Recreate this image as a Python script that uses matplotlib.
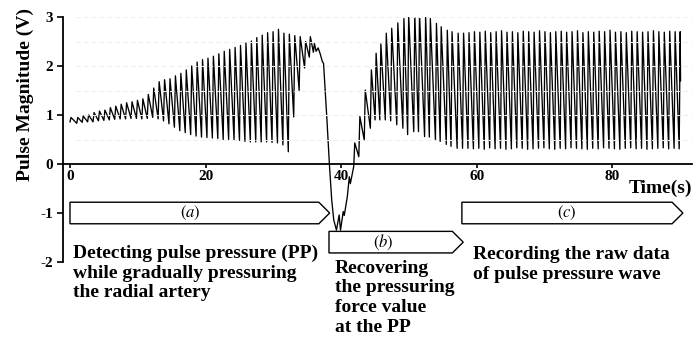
"""Pulse pressure recording with the three measuring phases."""

import matplotlib
matplotlib.use("Agg")

import matplotlib.pyplot as plt
from matplotlib.patches import Polygon


# -- data --

# phase (a): beat onset time (s), trough and peak (V)
a_onset = [0.0, 1.0, 1.8, 2.6, 3.4, 4.2, 5.0, 5.8, 6.6, 7.4,
           8.2, 9.0, 9.8, 10.6, 11.4, 12.2, 13.0, 13.8, 14.6, 15.4,
           16.2, 17.0, 17.8, 18.6, 19.4, 20.2, 21.0, 21.8, 22.6, 23.4,
           24.2, 25.0, 25.8, 26.6, 27.4, 28.2, 29.0, 29.8, 30.6, 31.4,
           32.2, 33.0, 33.8, 34.6, 35.3, 35.9]
a_trough = [0.86, 0.83, 0.85, 0.86, 0.86, 0.88, 0.89, 0.90, 0.91, 0.92,
            0.92, 0.93, 0.93, 0.92, 0.93, 0.95, 0.92, 0.88, 0.82, 0.75,
            0.68, 0.64, 0.60, 0.57, 0.55, 0.54, 0.53, 0.52, 0.50, 0.50,
            0.49, 0.48, 0.46, 0.45, 0.45, 0.45, 0.45, 0.44, 0.43, 0.39,
            0.25, 0.96, 1.50, 1.96, 2.18, 2.28]
a_peak = [0.95, 0.95, 0.98, 1.00, 1.05, 1.08, 1.10, 1.15, 1.18, 1.22,
          1.25, 1.27, 1.30, 1.33, 1.42, 1.55, 1.68, 1.72, 1.74, 1.80,
          1.85, 1.92, 2.00, 2.08, 2.13, 2.16, 2.20, 2.25, 2.30, 2.34,
          2.38, 2.42, 2.47, 2.51, 2.58, 2.63, 2.68, 2.70, 2.75, 2.67,
          2.65, 2.62, 2.60, 2.50, 2.60, 2.46]

# release of the pressure, signal drops below zero
dip_t = [36.3, 36.6, 36.9, 37.2, 37.4, 37.9, 38.25, 38.6, 38.9, 39.3,
         39.7, 39.9, 40.3, 40.45, 40.9, 41.2, 41.35]
dip_v = [2.30, 2.37, 2.25, 2.10, 2.05, 0.90, 0.02, -0.73, -1.14, -1.35,
         -1.04, -1.35, -0.97, -1.05, -0.67, -0.26, -0.40]

# phases (b) and (c)
b_onset = [41.85, 42.6, 43.4, 44.3, 45.0, 45.7, 46.5, 47.3, 48.2, 49.1,
           49.8, 50.7, 51.4, 52.3, 53.0, 53.9, 54.6, 55.5, 56.2, 57.1,
           57.9, 58.7, 59.5, 60.3, 61.1, 61.9, 62.7, 63.5, 64.3, 65.1,
           65.9, 66.7, 67.5, 68.3, 69.1, 69.9, 70.7, 71.5, 72.3, 73.1,
           73.9, 74.7, 75.5, 76.3, 77.1, 77.9, 78.7, 79.5, 80.3, 81.1,
           81.9, 82.7, 83.5, 84.3, 85.1, 85.9, 86.7, 87.5, 88.3, 89.1,
           89.85]
b_trough = [-0.05, 0.15, 0.49, 0.73, 0.90, 0.90, 0.90, 0.88, 0.80, 0.73,
            0.60, 0.66, 0.66, 0.56, 0.55, 0.49, 0.46, 0.40, 0.36, 0.32,
            0.32, 0.32, 0.31, 0.32, 0.30, 0.33, 0.31, 0.32, 0.30, 0.31,
            0.33, 0.32, 0.30, 0.31, 0.32, 0.33, 0.31, 0.30, 0.32, 0.31,
            0.33, 0.32, 0.31, 0.30, 0.32, 0.31, 0.33, 0.32, 0.31, 0.30,
            0.32, 0.33, 0.31, 0.32, 0.30, 0.31, 0.32, 0.33, 0.31, 0.32,
            0.31]
b_peak = [0.43, 0.97, 1.51, 1.92, 2.26, 2.45, 2.67, 2.77, 2.88, 2.97,
          3.04, 3.07, 3.07, 3.04, 2.97, 2.87, 2.80, 2.73, 2.70, 2.67,
          2.67, 2.68, 2.70, 2.69, 2.71, 2.68, 2.70, 2.72, 2.69, 2.70,
          2.68, 2.71, 2.70, 2.69, 2.72, 2.70, 2.68, 2.70, 2.71, 2.69,
          2.70, 2.72, 2.68, 2.70, 2.69, 2.71, 2.70, 2.73, 2.69, 2.70,
          2.68, 2.71, 2.70, 2.69, 2.70, 2.72, 2.70, 2.69, 2.71, 2.70,
          2.70]

end_t = [90.05]
end_v = [1.70]

x_ticks = [0, 20, 40, 60, 80]
y_ticks = [-2, -1, 0, 1, 2, 3]
grid_levels = [0.5, 1.0, 1.5, 2.0, 2.5, 3.0]

phase_tags = ["a", "b", "c"]
phase_notes = [
    "Detecting pulse pressure (PP)\nwhile gradually pressuring\nthe radial artery",
    "Recovering\nthe pressuring\nforce value\nat the PP",
    "Recording the raw data\nof pulse pressure wave",
]


# -- helpers --

def beats_to_line(onsets, lows, highs, rise=0.15):
    t, v = [], []
    for t0, lo, hi in zip(onsets, lows, highs):
        t += [t0, t0 + rise]
        v += [lo, hi]
    return t, v


def arrow_box(ax, x0, x1, yc, h=0.44, tip=1.6):
    pts = [(x0, yc - h / 2), (x1 - tip, yc - h / 2), (x1, yc),
           (x1 - tip, yc + h / 2), (x0, yc + h / 2)]
    ax.add_patch(Polygon(pts, closed=True, facecolor="white", edgecolor="black",
                         linewidth=1.0, clip_on=False, zorder=2))


plt.rcParams["font.family"] = ["Liberation Serif", "DejaVu Serif"]
plt.rcParams["mathtext.fontset"] = "stix"
plt.rcParams["axes.unicode_minus"] = False

fig = plt.figure(figsize=(6.94, 3.46), dpi=100)
ax = fig.add_axes([63 / 694, 84 / 346, 629 / 694, 245 / 346])

ta, va = beats_to_line(a_onset, a_trough, a_peak)
tb, vb = beats_to_line(b_onset, b_trough, b_peak)
t_all = ta + dip_t + tb + end_t
v_all = va + dip_v + vb + end_v
ax.plot(t_all, v_all, color="black", linewidth=0.95, zorder=3)

# faint dashed grid drawn over the trace
for g in grid_levels:
    ax.axhline(g, xmin=0.02, color="#eeeeee", linewidth=0.8,
               dashes=(4, 3), zorder=4)

ax.set_xlim(-1.03, 91.74)
ax.set_ylim(-2, 3)

for s in ("top", "right"):
    ax.spines[s].set_visible(False)
ax.spines["bottom"].set_position(("data", 0))
ax.spines["left"].set_linewidth(1.3)
ax.spines["bottom"].set_linewidth(1.3)
ax.spines["bottom"].set_zorder(5)

ax.set_xticks(x_ticks)
ax.set_yticks(y_ticks)
ax.set_xticklabels([str(x) for x in x_ticks], fontsize=11, fontweight="bold")
ax.set_yticklabels([str(y) for y in y_ticks], fontsize=11, fontweight="bold")
ax.tick_params(axis="x", direction="out", length=3, width=1.2, pad=1)
ax.tick_params(axis="y", direction="out", length=4, width=1.2, pad=3)

ax.text(91.8, -0.5, "Time(s)", ha="right", va="center",
        fontsize=14, fontweight="bold")
fig.text(25 / 694, 1 - 95 / 346, "Pulse Magnitude (V)", rotation=90,
         ha="center", va="center", fontsize=14, fontweight="bold")

# phase arrows
arrow_box(ax, 0.0, 38.3, -1.0)
arrow_box(ax, 38.2, 58.0, -1.595)
arrow_box(ax, 57.8, 90.4, -1.0)

tag_pos = [(17.7, -1.0), (46.2, -1.595), (73.3, -1.0)]
for tag, (x, y) in zip(phase_tags, tag_pos):
    ax.text(x, y, r"$(\mathit{%s})$" % tag, ha="center", va="center",
            fontsize=12, zorder=6)

note_pos = [(0.45, -1.64), (39.1, -1.95), (59.4, -1.68)]
for note, (x, y) in zip(phase_notes, note_pos):
    ax.text(x, y, note, ha="left", va="top", fontsize=14,
            fontweight="bold", linespacing=1.22)

fig.savefig("out.png", dpi=100)
